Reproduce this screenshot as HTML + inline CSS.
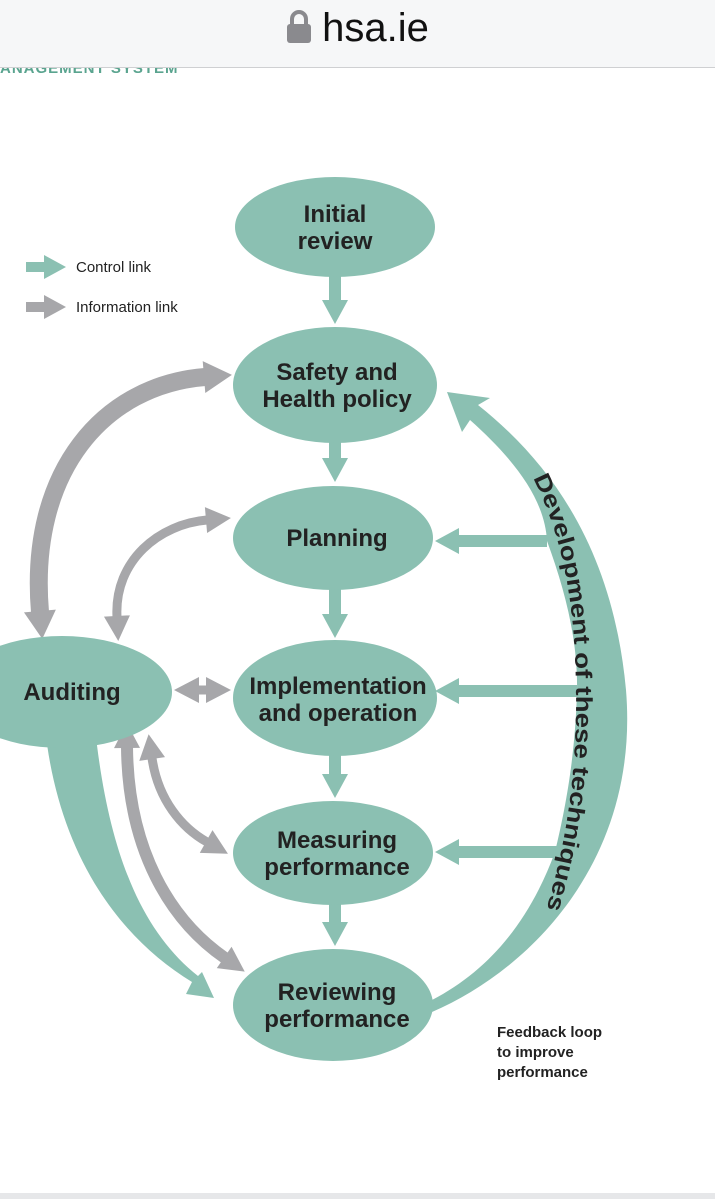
<!DOCTYPE html>
<html><head><meta charset="utf-8"><style>
html,body{margin:0;padding:0;background:#fff;}
body{width:715px;height:1199px;overflow:hidden;position:relative;font-family:"Liberation Sans",sans-serif;}
.bar{position:absolute;left:0;top:0;width:715px;height:67px;background:#f6f7f8;border-bottom:1px solid #cfd0d2;}
.url{position:absolute;left:0;width:715px;top:6px;text-align:center;font-size:40px;color:#111;}
.sub{position:absolute;left:0;top:60px;font-size:15px;color:#5aa48f;font-weight:bold;letter-spacing:1px;clip-path:inset(7px 0 0 0);}
.bot{position:absolute;left:0;top:1193px;width:715px;height:6px;background:#e6e7e9;}
</style></head><body>
<div class="sub">ANAGEMENT SYSTEM</div>
<div class="bar"><div class="url"><svg width="26" height="34" viewBox="0 0 26 34" style="vertical-align:-3px;margin-right:10px"><path d="M6 15 V9 a7 7 0 0 1 14 0 V15" fill="none" stroke="#8a8a8e" stroke-width="4"/><rect x="1" y="14" width="24" height="19" rx="3" fill="#8a8a8e"/></svg>hsa.ie</div></div>
<svg width="715" height="1199" style="position:absolute;left:0;top:0" font-family="Liberation Sans, sans-serif">
<defs>
<marker id="g" markerUnits="userSpaceOnUse" viewBox="-1 -16 30 32" markerWidth="30" markerHeight="32" refX="1" refY="0" orient="auto-start-reverse" overflow="visible"><path d="M0,-13 L25,0 L0,13 Z" fill="#a7a7aa"/></marker>
<marker id="gb" markerUnits="userSpaceOnUse" viewBox="-1 -18 32 36" markerWidth="32" markerHeight="36" refX="1" refY="0" orient="auto-start-reverse" overflow="visible"><path d="M0,-16 L28,0 L0,16 Z" fill="#a7a7aa"/></marker>
</defs>
<!-- legend -->
<path d="M26,262 H44 V255 L66,267 L44,279 V272 H26 Z" fill="#8bc0b2"/>
<text x="76" y="272" font-size="15" fill="#222">Control link</text>
<path d="M26,302 H44 V295 L66,307 L44,319 V312 H26 Z" fill="#a7a7aa"/>
<text x="76" y="312" font-size="15" fill="#222">Information link</text>
<!-- teal arrows -->
<g fill="#8bc0b2">
<path d="M329,270 V300 H322 L335,324 L348,300 H341 V270 Z"/>
<path d="M329,435 V458 H322 L335,482 L348,458 H341 V435 Z"/>
<path d="M329,585 V614 H322 L335,638 L348,614 H341 V585 Z"/>
<path d="M329,750 V774 H322 L335,798 L348,774 H341 V750 Z"/>
<path d="M329,900 V922 H322 L335,946 L348,922 H341 V900 Z"/>
<path d="M547,535 H459 V528 L435,541 L459,554 V547 H547 Z"/>
<path d="M577,685 H459 V678 L435,691 L459,704 V697 H577 Z"/>
<path d="M557,846 H459 V839 L435,852 L459,865 V858 H557 Z"/>
</g>
<!-- right crescent -->
<path d="M432,1012 C530,970 640,860 626,690 C614,560 560,470 478,405 L490,398 L447,392 L462,432 L470,420 C515,460 545,500 547,541 C565,590 578,640 577,691 C575,760 565,810 555,852 C530,920 490,970 432,1000 Z" fill="#8bc0b2"/>
<path id="arc" d="M533,478 C562,535 575,600 576,690 C577,780 565,850 543,920" fill="none"/>
<text font-size="23" font-weight="bold" fill="#222"><textPath href="#arc" textLength="440" lengthAdjust="spacingAndGlyphs">Development of these techniques</textPath></text>
<!-- grey arrows -->
<g fill="none" stroke="#a7a7aa">
<path d="M40,612 C28,470 105,385 205,377" stroke-width="18" marker-start="url(#gb)" marker-end="url(#gb)"/>
<path d="M117,617 C114,560 160,524 207,520" stroke-width="9" marker-start="url(#g)" marker-end="url(#g)"/>
<line x1="198" y1="690" x2="207" y2="690" stroke-width="9" marker-start="url(#g)" marker-end="url(#g)"/>
<path d="M152,758 C158,800 182,828 207,842" stroke-width="9" marker-start="url(#g)" marker-end="url(#g)"/>
<path d="M127,747 C128,850 170,920 225,958" stroke-width="12" marker-start="url(#g)" marker-end="url(#g)"/>
</g>
<!-- teal auditing to reviewing -->
<path d="M45,728 C58,850 115,935 192,982 L186,994 L214,998 L202,972 L198,976 C140,930 108,850 95,728 Z" fill="#8bc0b2"/>
<!-- ellipses -->
<g fill="#8bc0b2">
<ellipse cx="335" cy="227" rx="100" ry="50"/>
<ellipse cx="335" cy="385" rx="102" ry="58"/>
<ellipse cx="333" cy="538" rx="100" ry="52"/>
<ellipse cx="335" cy="698" rx="102" ry="58"/>
<ellipse cx="333" cy="853" rx="100" ry="52"/>
<ellipse cx="333" cy="1005" rx="100" ry="56"/>
<ellipse cx="62" cy="692" rx="110" ry="56"/>
</g>
<g font-size="24" font-weight="bold" fill="#222" text-anchor="middle">
<text x="335" y="222">Initial</text><text x="335" y="249">review</text>
<text x="337" y="380">Safety and</text><text x="337" y="407">Health policy</text>
<text x="337" y="546">Planning</text>
<text x="338" y="694">Implementation</text><text x="338" y="721">and operation</text>
<text x="337" y="848">Measuring</text><text x="337" y="875">performance</text>
<text x="337" y="1000">Reviewing</text><text x="337" y="1027">performance</text>
<text x="72" y="700">Auditing</text>
</g>
<g font-size="15" font-weight="bold" fill="#222">
<text x="497" y="1037">Feedback loop</text><text x="497" y="1057">to improve</text><text x="497" y="1077">performance</text>
</g>
</svg>
<div class="bot"></div>
</body></html>
